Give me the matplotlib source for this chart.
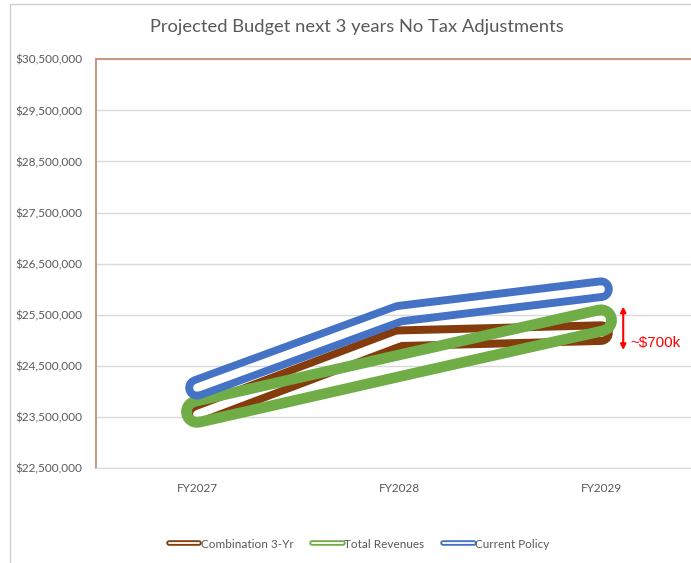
import numpy as np
import matplotlib
matplotlib.use('Agg')
import matplotlib.pyplot as plt
import matplotlib.colors as mcolors
import matplotlib.patheffects as pe
from matplotlib.lines import Line2D
from matplotlib.patches import Rectangle
from matplotlib.ticker import FuncFormatter

# data
years = ['FY2027', 'FY2028', 'FY2029']
combination_3yr = [23_550_000, 25_040_000, 25_140_000]
total_revenues = [23_600_000, 24_500_000, 25_390_000]
current_policy = [24_070_000, 25_520_000, 26_000_000]
y_ticks = [22_500_000, 23_500_000, 24_500_000, 25_500_000, 26_500_000,
           27_500_000, 28_500_000, 29_500_000, 30_500_000]

series_names = ['Combination 3-Yr', 'Total Revenues', 'Current Policy']
series_colors = ['#843C0C', '#70AD47', '#4472C4']
line_widths = [17.0, 23.0, 17.0]   # points
rim_px = [8, 11, 8]                # outline thickness, pixels

plt.rcParams['font.family'] = ['Lato', 'DejaVu Sans']
text_gray = '#595959'


def ring_filter(color, r):
    # keep only the outer rim of the stroke, so the middle is see-through
    rgb = mcolors.to_rgb(color)

    def f(img, dpi):
        a = img[:, :, 3]
        ap = np.pad(a, r + 1)
        inner = np.ones_like(a)
        h, w = a.shape
        for dy in range(-r, r + 1):
            for dx in range(-r, r + 1):
                if dx * dx + dy * dy <= r * r:
                    sl = ap[r + 1 + dy:r + 1 + dy + h, r + 1 + dx:r + 1 + dx + w]
                    inner = np.minimum(inner, sl)
        out = np.zeros_like(img)
        out[..., :3] = rgb
        out[..., 3] = np.clip(a - inner, 0, 1)
        return out, 0, 0
    return f


fig = plt.figure(figsize=(6.91, 5.63), dpi=100)
ax = fig.add_axes([96 / 691, 1 - 468 / 563, 606 / 691, (468 - 59.3) / 563])

x = np.arange(len(years))
for vals, col, lw, rim in zip([combination_3yr, total_revenues, current_policy],
                              series_colors, line_widths, rim_px):
    ln, = ax.plot(x, vals, color=col, lw=lw, solid_capstyle='round',
                  solid_joinstyle='round', zorder=3)
    ln.set_agg_filter(ring_filter(col, rim))

ax.set_xlim(-0.5, 2.5)
ax.set_ylim(y_ticks[0], y_ticks[-1])
ax.set_yticks(y_ticks)
ax.yaxis.set_major_formatter(FuncFormatter(lambda v, p: f'${v:,.0f}'))
ax.set_xticks(x)
ax.set_xticklabels(years)
ax.tick_params(length=0, labelsize=8.5, colors=text_gray)
ax.tick_params(axis='y', pad=10)
ax.tick_params(axis='x', pad=11)
ax.grid(axis='y', color='#D9D9D9', lw=1)
ax.set_axisbelow(True)

for s in ['top', 'left']:
    ax.spines[s].set_color('#BF9275')
    ax.spines[s].set_linewidth(1.3)
ax.spines['bottom'].set_color('#D9D9D9')
ax.spines['right'].set_visible(False)

# gap annotation at FY2029
ax.annotate('', xy=(2.11, 25_660_000), xytext=(2.11, 24_810_000),
            arrowprops=dict(arrowstyle='<|-|>', color='#FF0000', lw=1.5,
                            mutation_scale=8, shrinkA=0, shrinkB=0))
ax.text(2.145, 24_950_000, '~$700k', color='#FF0000', fontsize=11,
        family=['Liberation Sans', 'DejaVu Sans'], va='center', ha='left')

fig.text(357 / 691, 1 - 27 / 563, 'Projected Budget next 3 years No Tax Adjustments',
         ha='center', va='center', fontsize=13.2, color=text_gray)

# legend with hollow line icons
handles = []
for col in series_colors:
    h = Line2D([], [], color='white', lw=1.3, solid_capstyle='round',
               path_effects=[pe.Stroke(linewidth=4.0, foreground=col), pe.Normal()])
    handles.append(h)
fig.legend(handles, series_names, loc='center',
           bbox_to_anchor=(359 / 691, 1 - 544 / 563), ncol=3,
           frameon=False, fontsize=8.5, labelcolor=text_gray, handlelength=2.6,
           handletextpad=0.1, columnspacing=1.6)

# chart area border (right/bottom cut off in the original)
fig.add_artist(Rectangle((10 / 691, -0.1), 1.0, 1.1 - 4 / 563, transform=fig.transFigure,
                         fill=False, edgecolor='#D0D0D0', lw=1))

fig.savefig('out.png', dpi=100)
